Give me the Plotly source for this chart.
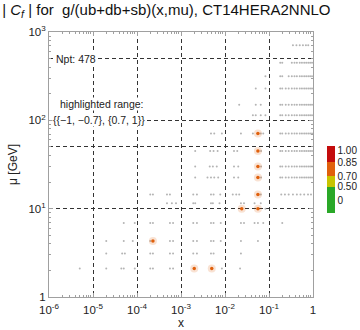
import plotly.graph_objects as go

# ---------------- data ----------------
x_dense = [0.18, 0.2, 0.24, 0.28, 0.33, 0.38, 0.43, 0.5, 0.56, 0.63, 0.7, 0.78, 0.86, 0.95]
x_dense_short = [0.35, 0.42, 0.5, 0.59, 0.69, 0.78]

row_mu = [2.1, 3.1, 4.3, 6.9, 10.0, 11.5, 14.5, 22.5, 30.0, 45.0, 71.0, 114.0, 150.0, 230.0, 316.0, 450.0, 710.0]
row_x = [
    [5e-6, 2e-5, 4.4e-5, 5e-5, 8.9e-5, 2e-4, 2.3e-4, 5.6e-4, 6.6e-4, 8.5e-3, 0.022],
    [2e-5, 4.6e-5, 5.3e-5, 2e-4, 2.3e-4, 5.6e-4, 6.6e-4, 1.9e-3, 2.3e-3, 4.8e-3, 5.5e-3, 0.023],
    [2e-5, 5e-5, 8e-5, 2e-4, 5.6e-4, 6.6e-4, 1.9e-3, 2.3e-3, 4.8e-3, 5.5e-3, 8e-3, 0.023, 0.056],
    [5e-5, 8.9e-5, 2e-4, 2.3e-4, 5.6e-4, 6.6e-4, 1.9e-3, 2.3e-3, 4.8e-3, 5.5e-3, 8e-3, 0.023, 0.027, 0.047, 0.056, 0.074, 0.2],
    [0.083],
    [4.8e-4, 6.2e-4, 7.7e-4, 1.9e-3, 2.1e-3, 4.8e-3, 5.3e-3, 7.5e-3, 0.023, 0.027, 0.047, 0.065],
    [2e-4, 2.3e-4, 4.8e-4, 5.6e-4, 1.9e-3, 2.3e-3, 4.8e-3, 5.5e-3, 7.8e-3, 0.015, 0.018, 0.021, 0.065,
     0.19, 0.23, 0.28, 0.35, 0.43, 0.52, 0.63, 0.77, 0.9],
    [2.1e-3, 4e-3, 4.8e-3, 5.7e-3, 7e-3, 0.016, 0.02, 0.066] + x_dense,
    [2.1e-3, 4.5e-3, 5.3e-3, 6.5e-3, 0.016, 0.02, 0.066] + x_dense,
    [2.1e-3, 4.6e-3, 5.5e-3, 6.8e-3, 0.016, 0.019, 0.066] + x_dense,
    [4.8e-3, 5.7e-3, 8.5e-3, 0.023, 0.043, 0.065, 0.074] + x_dense,
    [0.043, 0.05, 0.065, 0.083] + x_dense,
    [0.021, 0.05, 0.065] + x_dense,
    [0.05, 0.083] + x_dense,
    [0.083, 0.18, 0.2] + x_dense[3:],
    [0.18, 0.2] + x_dense[4:],
    x_dense_short,
]

hl_x = [0.002, 0.005, 2.3e-4, 0.024, 0.056, 0.056, 0.056, 0.056, 0.056, 0.056]
hl_mu = [2.1, 2.1, 4.3, 10.0, 10.0, 14.5, 22.5, 30.0, 45.0, 71.0]
hl_cf = [0.8, 0.8, 0.78, 0.8, 0.82, 0.8, 0.8, 0.8, 0.8, 0.79]

n_points = 478

cf_bounds = [0.0, 0.5, 0.7, 0.85, 1.0]
cf_colors = ["#2aa828", "#c8c400", "#e0600c", "#c40c0c"]
cb_labels = ["0", "0.50", "0.70", "0.85", "1.00"]

x_ticks = [1e-6, 1e-5, 1e-4, 1e-3, 1e-2, 1e-1, 1]
x_ticktext = ["10<sup>-6</sup>", "10<sup>-5</sup>", "10<sup>-4</sup>", "10<sup>-3</sup>",
              "10<sup>-2</sup>", "10<sup>-1</sup>", "1"]
y_ticks = [1, 10, 50, 100, 500, 1000]
y_ticktext = ["1", "10<sup>1</sup>", "", "10<sup>2</sup>", "", "10<sup>3</sup>"]

# ---------------- build ----------------
gx, gy = [], []
for mu, xs in zip(row_mu, row_x):
    gx += xs
    gy += [mu] * len(xs)


def cf_color(v):
    for i in range(len(cf_colors)):
        if cf_bounds[i] <= v <= cf_bounds[i + 1]:
            return cf_colors[i]
    return cf_colors[-1]


FONT = "Liberation Sans, Arial, sans-serif"
fig = go.Figure()

fig.add_trace(go.Scatter(x=gx, y=gy, mode="markers",
                         marker=dict(size=2, color="#b4b4b4", line=dict(width=0)),
                         showlegend=False, hoverinfo="skip"))
fig.add_trace(go.Scatter(x=hl_x, y=hl_mu, mode="markers",
                         marker=dict(size=8, color=[cf_color(v) for v in hl_cf], opacity=0.18,
                                     line=dict(width=0)),
                         showlegend=False, hoverinfo="skip"))
fig.add_trace(go.Scatter(x=hl_x, y=hl_mu, mode="markers",
                         marker=dict(size=3.5, color=[cf_color(v) for v in hl_cf], line=dict(width=0)),
                         showlegend=False, hoverinfo="skip"))

# colorbar (discrete bands, non-uniform band heights as in the original)
band_edges = [0.0, 0.39, 0.55, 0.76, 1.0]
cscale = []
for i, c in enumerate(cf_colors):
    cscale.append([band_edges[i], c])
    cscale.append([band_edges[i + 1], c])
fig.add_trace(go.Scatter(
    x=[1e-3], y=[10], mode="markers", showlegend=False, hoverinfo="skip",
    marker=dict(size=0.1, opacity=0, color=[0.5], cmin=0, cmax=1, colorscale=cscale,
                showscale=True,
                colorbar=dict(x=1.053, xanchor="left", xpad=0, ypad=0, y=0.57, yanchor="top",
                              lenmode="pixels", len=67, thickness=8, outlinewidth=0,
                              ticks="", tickvals=[0.18, 0.39, 0.55, 0.746, 0.925],
                              ticktext=cb_labels,
                              tickfont=dict(family=FONT, size=10, color="#222")))))

axis_common = dict(type="log", showline=True, linecolor="#a0a0a0", linewidth=1, mirror="allticks",
                   ticks="inside", ticklen=4, tickcolor="#a0a0a0", showgrid=True,
                   gridcolor="#333333", griddash="4px,3px", gridwidth=1, zeroline=False,
                   tickfont=dict(family=FONT, size=11.5, color="#222"))

x_minor = [m * d for d in [1e-6, 1e-5, 1e-4, 1e-3, 1e-2, 1e-1] for m in range(2, 10)]
y_minor = [m * d for d in [1, 10, 100] for m in range(2, 10)]

fig.update_xaxes(**axis_common, range=[-6, 0], tickmode="array", tickvals=x_ticks, ticktext=x_ticktext,
                 ticklabelstandoff=2,
                 minor=dict(tickmode="array", tickvals=x_minor, ticks="inside", ticklen=2,
                            tickcolor="#a0a0a0", showgrid=False),
                 title=dict(text="x", font=dict(family=FONT, size=12, color="#222"), standoff=2))
fig.update_yaxes(**axis_common, range=[0, 3], tickmode="array", tickvals=y_ticks, ticktext=y_ticktext,
                 minor=dict(tickmode="array", tickvals=y_minor, ticks="inside", ticklen=2,
                            tickcolor="#a0a0a0", showgrid=False),
                 title=dict(text="μ [GeV]", font=dict(family=FONT, size=12, color="#222"), standoff=8))

ann_font = dict(family=FONT, size=10.5, color="#222")
fig.add_annotation(x=0.022, y=0.898, xref="paper", yref="paper", xanchor="left", yanchor="middle",
                   text=f"Npt: {n_points}", showarrow=False, font=ann_font, bgcolor="white", borderpad=0)
fig.add_annotation(x=0.2, y=0.728, xref="paper", yref="paper", xanchor="center", yanchor="middle",
                   text="highlighted range:", showarrow=False, font=ann_font, bgcolor="white", borderpad=0)
fig.add_annotation(x=0.19, y=0.668, xref="paper", yref="paper", xanchor="center", yanchor="middle",
                   text="{{−1, −0.7}, {0.7, 1}}", showarrow=False, font=ann_font, bgcolor="white",
                   borderpad=0)

fig.update_layout(
    width=360, height=330,
    margin=dict(l=49, r=47, t=32, b=33, autoexpand=False),
    paper_bgcolor="white", plot_bgcolor="white",
    title=dict(text="| <i>C<sub>f</sub></i> | for\u00a0\u00a0g/(ub+db+sb)(x,mu), CT14HERA2NNLO",
               x=0.006, xanchor="left", y=0.97, yanchor="middle",
               font=dict(family=FONT, size=15, color="#111")),
    font=dict(family=FONT),
)

fig.write_html("out.html")
